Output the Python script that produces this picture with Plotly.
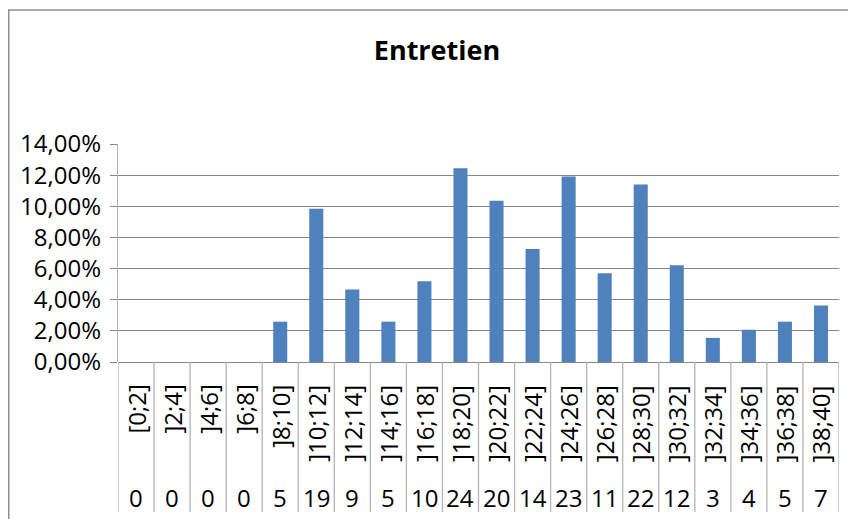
import plotly.graph_objects as go

# Classes de notes, effectifs et pourcentages
classes = ["[0;2]", "]2;4]", "]4;6]", "]6;8]", "]8;10]", "]10;12]", "]12;14]",
           "]14;16]", "]16;18]", "]18;20]", "]20;22]", "]22;24]", "]24;26]",
           "]26;28]", "]28;30]", "]30;32]", "]32;34]", "]34;36]", "]36;38]", "]38;40]"]
effectifs = [0, 0, 0, 0, 5, 19, 9, 5, 10, 24, 20, 14, 23, 11, 22, 12, 3, 4, 5, 7]
pourcentages = [0.0, 0.0, 0.0, 0.0, 0.0259, 0.0984, 0.0466, 0.0259, 0.0518, 0.1244,
                0.1036, 0.0725, 0.1192, 0.0570, 0.1140, 0.0622, 0.0155, 0.0207,
                0.0259, 0.0363]

FONT = "Open Sans"
GRID = "#868686"
SEP = "#b4b4b4"

# la page html garde la marge de 8 px du body : on décale tout de 8 px
OFF = 8
W, H = 856 - OFF, 519 - OFF
L, R = 118 - OFF, 17
T, B = 144 - OFF, 157
pw, ph = W - L - R, H - T - B

pos = list(range(len(classes)))

fig = go.Figure()
fig.add_trace(go.Bar(x=pos, y=pourcentages, width=0.39,
                     marker=dict(color="#4f81bd", line=dict(width=0))))

# tableau sous l'axe : séparateurs verticaux
shapes = []
for i in range(len(classes) + 1):
    shapes.append(dict(type="line", xref="x", yref="paper",
                       x0=i - 0.5, x1=i - 0.5, y0=0, y1=-150 / ph,
                       line=dict(color=SEP, width=1.3)))
# cadre du graphique
shapes.append(dict(type="rect", xref="paper", yref="paper",
                   x0=(0.75 - L) / pw, x1=(W + 10 - L) / pw,
                   y0=-(B + 10) / ph, y1=(H - B - 2) / ph,
                   line=dict(color="#8f8f8f", width=1.5), layer="below"))

annotations = []
for i, (c, n) in enumerate(zip(classes, effectifs)):
    annotations.append(dict(x=i, y=0, xref="x", yref="paper", text=c,
                            textangle=-90, showarrow=False,
                            xanchor="center", yanchor="top", yshift=-21,
                            font=dict(family=FONT, size=24, color="#000")))
    annotations.append(dict(x=i, y=0, xref="x", yref="paper", text=str(n),
                            showarrow=False, xanchor="center", yanchor="middle",
                            yshift=-135,
                            font=dict(family=FONT, size=24, color="#000")))

fig.update_layout(
    width=W, height=H,
    margin=dict(l=L, r=R, t=T, b=B),
    paper_bgcolor="white", plot_bgcolor="white",
    separators=", ",
    showlegend=False,
    title=dict(text="<b>Entretien</b>", xref="container", yref="container",
               x=(437 - OFF) / W, y=1 - (51 - OFF) / H,
               xanchor="center", yanchor="middle",
               font=dict(family=FONT, size=27, color="#000")),
    xaxis=dict(range=[-0.5, len(classes) - 0.5], showticklabels=False,
               showgrid=False, zeroline=False, showline=False, ticks=""),
    yaxis=dict(range=[0, 0.14], dtick=0.02, tickformat=".2%",
               showgrid=True, gridcolor=GRID, gridwidth=1,
               zeroline=True, zerolinecolor=GRID, zerolinewidth=1,
               showline=True, linecolor=SEP, linewidth=1.3,
               ticks="outside", ticklen=7, tickcolor=GRID,
               ticklabelstandoff=4,
               tickfont=dict(family=FONT, size=24, color="#000")),
    shapes=shapes,
    annotations=annotations,
    bargap=0.6,
)

fig.write_html("out.html")
